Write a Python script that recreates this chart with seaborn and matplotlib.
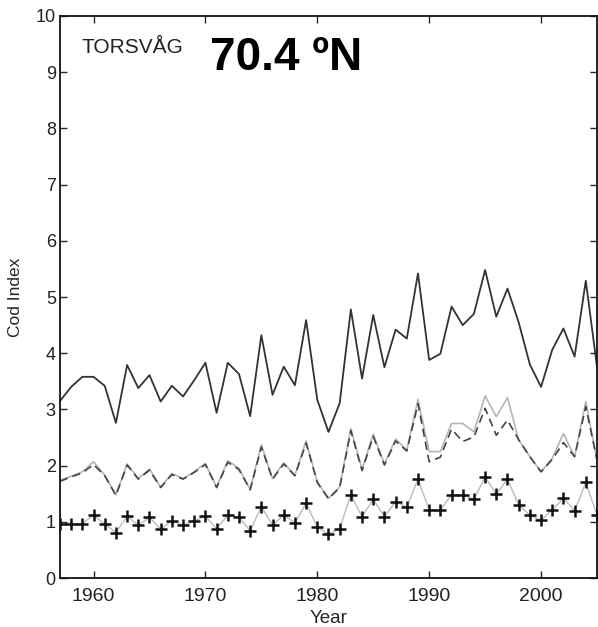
import matplotlib
matplotlib.use("Agg")
import matplotlib.pyplot as plt
import seaborn as sns
import pandas as pd

years = list(range(1957, 2006))

top_line = [3.15, 3.40, 3.58, 3.58, 3.42, 2.76, 3.79, 3.38, 3.61, 3.14,
            3.42, 3.23, 3.52, 3.83, 2.94, 3.83, 3.63, 2.88, 4.32, 3.26,
            3.76, 3.43, 4.59, 3.17, 2.60, 3.11, 4.78, 3.55, 4.68, 3.75,
            4.42, 4.26, 5.42, 3.88, 3.99, 4.83, 4.50, 4.70, 5.48, 4.65,
            5.15, 4.55, 3.80, 3.40, 4.06, 4.44, 3.94, 5.29, 3.76]

gray_line = [1.74, 1.81, 1.89, 2.07, 1.83, 1.48, 2.03, 1.77, 1.94, 1.62,
             1.86, 1.77, 1.89, 2.04, 1.62, 2.09, 1.95, 1.58, 2.37, 1.77,
             2.05, 1.83, 2.44, 1.71, 1.42, 1.62, 2.66, 1.93, 2.56, 2.03,
             2.47, 2.28, 3.18, 2.25, 2.25, 2.75, 2.75, 2.60, 3.24, 2.87,
             3.21, 2.46, 2.16, 1.89, 2.13, 2.57, 2.16, 3.14, 2.10]

dashed_line = [1.72, 1.80, 1.87, 2.02, 1.82, 1.47, 2.01, 1.76, 1.92, 1.61,
               1.84, 1.76, 1.88, 2.02, 1.61, 2.06, 1.93, 1.57, 2.33, 1.76,
               2.03, 1.82, 2.40, 1.70, 1.41, 1.61, 2.62, 1.91, 2.52, 2.01,
               2.44, 2.26, 3.10, 2.07, 2.15, 2.65, 2.43, 2.51, 3.02, 2.54,
               2.81, 2.46, 2.16, 1.89, 2.11, 2.41, 2.16, 3.05, 2.10]

plus_line = [0.96, 0.97, 0.97, 1.12, 0.96, 0.81, 1.10, 0.94, 1.08, 0.87,
             1.02, 0.94, 1.02, 1.10, 0.88, 1.12, 1.08, 0.84, 1.27, 0.94,
             1.12, 0.98, 1.33, 0.91, 0.78, 0.88, 1.48, 1.09, 1.40, 1.09,
             1.36, 1.26, 1.76, 1.21, 1.21, 1.48, 1.48, 1.40, 1.80, 1.49,
             1.76, 1.30, 1.12, 1.03, 1.21, 1.42, 1.20, 1.70, 1.12]

x_ticks = [1960, 1970, 1980, 1990, 2000]
y_ticks = list(range(0, 11))

df = pd.DataFrame({"Year": years, "top": top_line, "gray": gray_line,
                   "dashed": dashed_line, "plus": plus_line})

sns.set_style("ticks")
plt.rcParams["font.family"] = ["Liberation Sans", "DejaVu Sans"]

fig = plt.figure(figsize=(5.98, 6.27), dpi=100)
ax = fig.add_axes([0.1003, 0.0781, 0.898, 0.8964])

sns.lineplot(data=df, x="Year", y="gray", ax=ax, color="#b5b5b5", lw=1.2)
sns.lineplot(data=df, x="Year", y="dashed", ax=ax, color="#444444", lw=1.2,
             linestyle=(0, (5, 3)))
sns.lineplot(data=df, x="Year", y="top", ax=ax, color="#333333", lw=1.3)
sns.lineplot(data=df, x="Year", y="plus", ax=ax, color="#bbbbbb", lw=1.0)
sns.scatterplot(data=df, x="Year", y="plus", ax=ax, marker="+", color="#111111",
                s=70, linewidth=1.8, zorder=5)

ax.set_xlim(1957, 2005)
ax.set_ylim(0, 10)
ax.set_xticks(x_ticks)
ax.set_yticks(y_ticks)
ax.tick_params(direction="in", top=True, right=True, length=5, width=1,
               labelcolor="#222222")
ax.tick_params(axis="x", labelsize=14, pad=7)
ax.tick_params(axis="y", labelsize=13, pad=3)
for s in ax.spines.values():
    s.set_visible(True)
    s.set_linewidth(1.3)
    s.set_color("#111111")
ax.set_xlabel("Year", fontsize=13.5, labelpad=4)
ax.set_ylabel("Cod Index", fontsize=12.5, labelpad=9)

ax.text(0.04, 0.944, "TORSVÅG", transform=ax.transAxes, fontsize=15,
        color="#222222", va="center", ha="left")
ax.text(0.28, 0.925, "70.4 ºN", transform=ax.transAxes, fontsize=33,
        fontweight="bold", color="black", va="center", ha="left")

fig.savefig("out.png", dpi=100)
